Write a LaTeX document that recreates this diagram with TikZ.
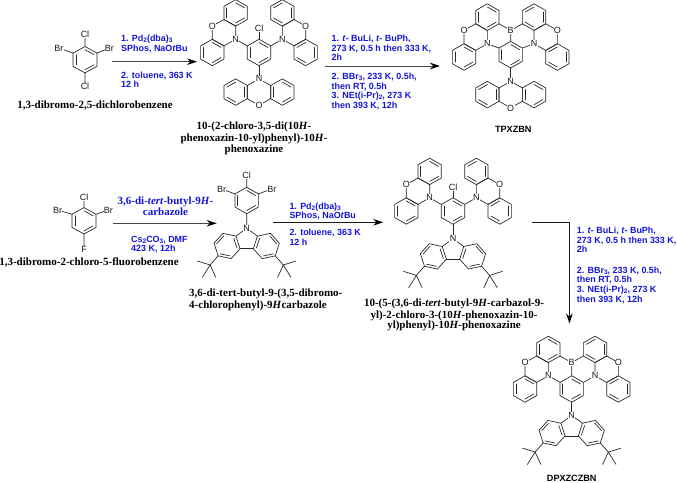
\documentclass[tikz,border=0pt]{standalone}
\usepackage{fontspec}
\setmainfont{Liberation Serif}
\newfontfamily\arf{Liberation Sans}
\usetikzlibrary{arrows.meta}
\definecolor{lblue}{rgb}{0.08,0.08,0.85}
\tikzset{
  bond/.style={line width=0.68pt,draw=black!85,line cap=round,line join=round},
  atom/.style={fill=white,inner sep=0.3pt,font=\arf\fontsize{9}{9}\selectfont,text=black!90},
  cond/.style={anchor=base west,inner sep=0pt,text=lblue,font=\arf\bfseries\fontsize{8.95}{10}\selectfont},
  condser/.style={anchor=base,inner sep=0pt,text=lblue,font=\bfseries\fontsize{11}{11}\selectfont},
  cname/.style={anchor=base,inner sep=0pt,text=black,font=\bfseries\fontsize{11}{11}\selectfont},
  cnamel/.style={cname,anchor=base west},
  code/.style={anchor=base,inner sep=0pt,text=black,font=\arf\bfseries\fontsize{9.1}{9}\selectfont},
  rxn/.style={line width=0.85pt,draw=black!72,-{Stealth[length=10pt,width=6.5pt,color=black]}},
}
\newcommand{\sbs}[1]{\raisebox{-1.2pt}{\fontsize{6.5}{6.5}\selectfont #1}}
\newcommand{\hxo}[2]{\draw[bond] ({#1},{#2-2})--({#1+1},{#2-1})--({#1+1},{#2+1})--({#1},{#2+2})--({#1-1},{#2+1})--({#1-1},{#2-1})--cycle;}
\newcommand{\hx}[3]{\hxo{#1}{#2}%
  \foreach \k in {#3}{%
    \pgfmathsetmacro{\ax}{{0,1,1,0,-1,-1,0}[\k]}%
    \pgfmathsetmacro{\ay}{{-2,-1,1,2,1,-1,-2}[\k]}%
    \pgfmathsetmacro{\bx}{{0,1,1,0,-1,-1,0}[\k+1]}%
    \pgfmathsetmacro{\by}{{-2,-1,1,2,1,-1,-2}[\k+1]}%
    \draw[bond] ({#1+0.76*\ax},{#2+0.76*\ay})--({#1+0.76*\bx},{#2+0.76*\by});
  }}
% side phenoxazines, lattice units
\newcommand{\pxzsides}[2]{%
  \hxo{-3}{-3+#2}\hxo{3}{-3+#2}
  \hx{-2}{-6+#2}{0,2,4}\hx{2}{-6+#2}{5,3,1}
  \hx{-4}{#2}{0,2,4}\hx{4}{#2}{5,3,1}
  \draw[bond] (-1,-1)--(-2,{-2+#2}) (1,-1)--(2,{-2+#2});
  \node[atom] (#1NL) at (-2,{-2+#2}) {N};
  \node[atom] (#1NR) at (2,{-2+#2}) {N};
  \node[atom] (#1OL) at (-4,{-4+#2}) {O};
  \node[atom] (#1OR) at (4,{-4+#2}) {O};
}
\newcommand{\pxzbottom}[1]{%
  \hxo{0}{6}\hx{-2}{6}{1,3,5}\hx{2}{6}{4,2,0}
  \draw[bond] (0,2)--(0,4);
  \node[atom] (#1NB) at (0,4) {N};
  \node[atom] (#1OB) at (0,8) {O};
}
\newcommand{\boron}[2]{%
  \draw[bond] (0,-2)--(0,{-4+#2}) (0,{-4+#2})--(-1,{-5+#2}) (0,{-4+#2})--(1,{-5+#2});
  \node[atom] (#1B) at (0,{-4+#2}) {B};
}
% carbazole with tBu groups: pixel units, N at origin
\newcommand{\cbzhalf}[1]{%
  \begin{scope}[xscale=#1]
  \draw[bond] (0,0)--(10.75,7.81)--(23.75,5.03)--(32.66,14.89)--(28.57,27.55)--(15.57,30.33)--(6.64,20.44)--(10.75,7.81);
  \draw[bond] (6.64,20.44)--(0,20.44);
  \draw[bond] (23.0,7.6)--(30.0,15.4);
  \draw[bond] (26.6,25.5)--(16.7,27.6);
  \draw[bond] (12.9,10.1)--(9.7,19.7);
  \draw[bond] (28.57,27.55)--(36.6,36.7);
  \draw[bond] (36.6,36.7)--(49.3,32.7) (36.6,36.7)--(44.3,49) (36.6,36.7)--(30.9,49);
  \end{scope}}
\newcommand{\cbz}[3]{%
  \begin{scope}[shift={(#2,#3)},x=1pt,y=-1pt]
  \cbzhalf{1}\cbzhalf{-1}
  \node[atom] (#1NC) at (0,0) {N};
  \end{scope}}
\begin{document}
\begin{tikzpicture}[x=1pt,y=-1pt]
\useasboundingbox (0,0) rectangle (677,482);
% --- compound 1
\begin{scope}[shift={(85,59.7)},x=12pt,y=-6.6pt]
  \hx{0}{0}{0,2,4}
  \draw[bond] (0,-2)--(0,-3.9) (-1,-1)--(-2.17,-1.77) (1,-1)--(2.03,-1.77) (0,2)--(0,4.1);
  \node[atom] (c1a) at (0,-3.9) {Cl};
  \node[atom] (c1b) at (-2.17,-1.77) {Br};
  \node[atom] (c1c) at (2.03,-1.77) {Br};
  \node[atom] (c1d) at (0,4.1) {Cl};
\end{scope}
\node[cname] (n1) at (95,108.5) {1,3-dibromo-2,5-dichlorobenzene};
% --- compound 2
\begin{scope}[shift={(259,52.5)},x=11.67pt,y=-6.6pt]
  \hx{0}{0}{0,2,4}
  \draw[bond] (0,-2)--(0,-3.6);
  \node[atom] (c2cl) at (0,-3.6) {Cl};
  \pxzsides{c2}{0}
  \pxzbottom{c2}
\end{scope}
\node[cname] (n2a) at (254,129) {10-(2-chloro-3,5-di(10\textit{H}-};
\node[cname] (n2b) at (254,141) {phenoxazin-10-yl)phenyl)-10\textit{H}-};
\node[cname] (n2c) at (254,152) {phenoxazine};
% --- compound 3
\begin{scope}[shift={(510.7,54.7)},x=11.67pt,y=-6.65pt]
  \hx{0}{0}{0,2,4}
  \boron{c3}{0.35}
  \pxzsides{c3}{0.35}
  \pxzbottom{c3}
\end{scope}
\node[code] (n3) at (513.3,132.5) {TPXZBN};
% --- compound 4
\begin{scope}[shift={(84,220.8)},x=12pt,y=-6.6pt]
  \hx{0}{0}{0,2,4}
  \draw[bond] (0,-2)--(0,-3.55) (-1,-1)--(-2.2,-1.63) (1,-1)--(2.03,-1.63) (0,2)--(0,4.3);
  \node[atom] (c4a) at (0,-3.55) {Cl};
  \node[atom] (c4b) at (-2.2,-1.63) {Br};
  \node[atom] (c4c) at (2.03,-1.63) {Br};
  \node[atom] (c4d) at (0,4.3) {F};
\end{scope}
\node[cname] (n4) at (89,265.7) {1,3-dibromo-2-chloro-5-fluorobenzene};
% --- compound 5
\begin{scope}[shift={(246.7,200.5)},x=11.67pt,y=-6.6pt]
  \hx{0}{0}{0,2,4}
  \draw[bond] (0,-2)--(0,-3.75) (-1,-1)--(-2.15,-1.75) (1,-1)--(2.15,-1.75) (0,2)--(0,4.1);
  \node[atom] (c5a) at (0,-3.75) {Cl};
  \node[atom] (c5b) at (-2.15,-1.75) {Br};
  \node[atom] (c5c) at (2.15,-1.75) {Br};
\end{scope}
\cbz{c5}{246.7}{228.3}
\node[cnamel] (n5a) at (189,296.3) {3,6-di-tert-butyl-9-(3,5-dibromo-};
\node[cnamel] (n5b) at (189,308.3) {4-chlorophenyl)-9\textit{H}carbazole};
% --- compound 6
\begin{scope}[shift={(453,211)},x=11.67pt,y=-6.6pt]
  \hx{0}{0}{0,2,4}
  \draw[bond] (0,-2)--(0,-3.55) (0,2)--(0,4);
  \node[atom] (c6cl) at (0,-3.55) {Cl};
  \pxzsides{c6}{0}
\end{scope}
\cbz{c6}{453}{238.7}
\node[cname] (n6a) at (454,306.3) {10-(5-(3,6-di-\textit{tert}-butyl-9\textit{H}-carbazol-9-};
\node[cname] (n6b) at (454,318) {yl)-2-chloro-3-(10\textit{H}-phenoxazin-10-};
\node[cname] (n6c) at (454,328.7) {yl)phenyl)-10\textit{H}-phenoxazine};
% --- compound 7
\begin{scope}[shift={(571.7,389)},x=11.67pt,y=-6.6pt]
  \hx{0}{0}{0,2,4}
  \boron{c7}{0}
  \pxzsides{c7}{0}
  \draw[bond] (0,2)--(0,4);
\end{scope}
\cbz{c7}{571.7}{415.4}
\node[code] (n7) at (571.7,481.3) {DPXZCZBN};
% --- arrows
\coordinate (r1s) at (111.7,61.7); \coordinate (r1e) at (197,61.7);
\draw[rxn] (r1s)--(r1e);
\coordinate (r2s) at (325,66); \coordinate (r2e) at (440,66);
\draw[rxn] (r2s)--(r2e);
\coordinate (r3s) at (113.3,223.3); \coordinate (r3e) at (216.7,223.3);
\draw[rxn] (r3s)--(r3e);
\coordinate (r4s) at (273.3,222.3); \coordinate (r4e) at (383.3,222.3);
\draw[rxn,draw=black!90] (r4s)--(r4e);
\coordinate (r5s) at (531.7,222.3); \coordinate (r5c) at (569.4,222.3); \coordinate (r5e) at (569.4,323.5);
\draw[rxn,draw=black!90,line width=0.7pt] (r5s)--(r5c)--(r5e);
% --- conditions, arrow 1
\node[cond] (a1a) at (121,41) {1. Pd\sbs{2}(dba)\sbs{3}};
\node[cond] (a1b) at (121,51) {SPhos, NaO\textit{t}Bu};
\node[cond] (a1c) at (121,78) {2. toluene, 363 K};
\node[cond] (a1d) at (121,87.5) {12 h};
% arrow 2
\node[cond] (a2a) at (331.5,41) {1. \textit{t}- BuLi, \textit{t}- BuPh,};
\node[cond] (a2b) at (331.5,51) {273 K, 0.5 h then 333 K,};
\node[cond] (a2c) at (331.5,60.5) {2h};
\node[cond] (a2d) at (331.5,79.5) {2. BBr\sbs{3}, 233 K, 0.5h,};
\node[cond] (a2e) at (331.5,89) {then RT, 0.5h};
\node[cond] (a2f) at (331.5,98.5) {3. NEt(i-Pr)\sbs{2}, 273 K};
\node[cond] (a2g) at (331.5,108) {then 393 K, 12h};
% arrow 3
\node[condser] (a3a) at (165.5,204) {3,6-di-\textit{tert}-butyl-9\textit{H}-};
\node[condser] (a3b) at (165.5,215.7) {carbazole};
\node[cond] (a3c) at (131,242) {Cs\sbs{2}CO\sbs{3}, DMF};
\node[cond] (a3d) at (131,251.3) {423 K, 12h};
% arrow 4
\node[cond] (a4a) at (289.3,209) {1. Pd\sbs{2}(dba)\sbs{3}};
\node[cond] (a4b) at (289.3,218.7) {SPhos, NaO\textit{t}Bu};
\node[cond] (a4c) at (289.3,235.7) {2. toluene, 363 K};
\node[cond] (a4d) at (289.3,245) {12 h};
% arrow 5
\node[cond] (a5a) at (576.7,233.7) {1. \textit{t}- BuLi, \textit{t}- BuPh,};
\node[cond] (a5b) at (576.7,243.5) {273 K, 0.5 h then 333 K,};
\node[cond] (a5c) at (576.7,252.3) {2h};
\node[cond] (a5d) at (576.7,273.2) {2. BBr\sbs{3}, 233 K, 0.5h,};
\node[cond] (a5e) at (576.7,282.8) {then RT, 0.5h};
\node[cond] (a5f) at (576.7,292.3) {3. NEt(i-Pr)\sbs{2}, 273 K};
\node[cond] (a5g) at (576.7,302) {then 393 K, 12h};
\end{tikzpicture}
\end{document}
